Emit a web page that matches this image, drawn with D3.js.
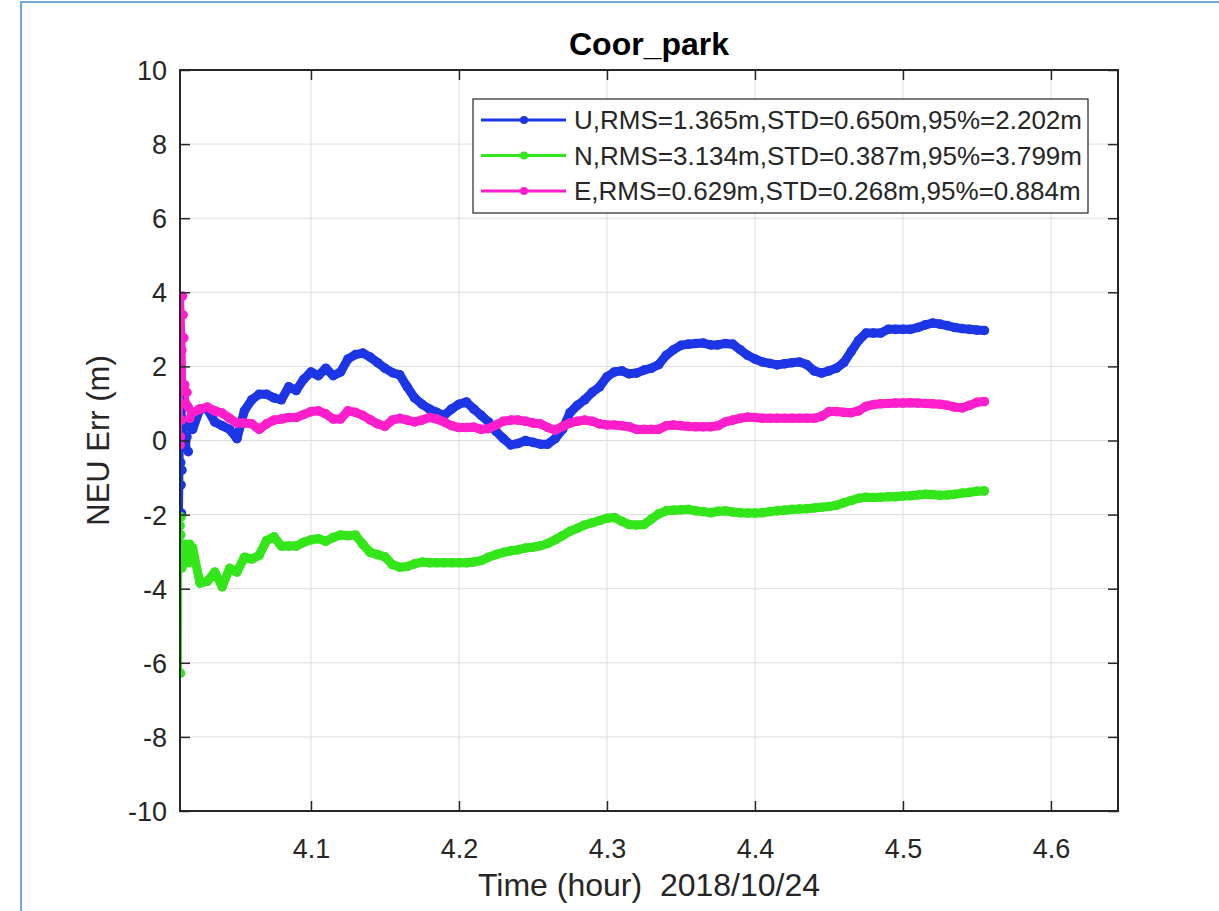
<!DOCTYPE html>
<html>
<head>
<meta charset="utf-8">
<script src="https://cdn.jsdelivr.net/npm/d3@7/dist/d3.min.js"></script>
<style>
  body { margin: 0; background: #fff; }
  text { font-family: "Liberation Sans", Arial, sans-serif; fill: #262626; }
</style>
</head>
<body>
<div id="chart"></div>
<script>
// epochs (hour of day)
const hours = [
  4.0116, 4.0118, 4.0120, 4.0122, 4.0125, 4.0128, 4.0132, 4.0136, 4.0141, 4.0147, 4.0154, 4.0162, 4.0171, 4.0181, 4.0192,
  4.020, 4.025, 4.030, 4.035, 4.040, 4.045, 4.050, 4.055, 4.060, 4.065,
  4.070, 4.075, 4.080, 4.085, 4.090, 4.095, 4.100, 4.105, 4.110, 4.115,
  4.120, 4.125, 4.130, 4.135, 4.140, 4.145, 4.150, 4.155, 4.160, 4.165,
  4.170, 4.175, 4.180, 4.185, 4.190, 4.195, 4.200, 4.205, 4.210, 4.215,
  4.220, 4.225, 4.230, 4.235, 4.240, 4.245, 4.250, 4.255, 4.260, 4.265,
  4.270, 4.275, 4.280, 4.285, 4.290, 4.295, 4.300, 4.305, 4.310, 4.315,
  4.320, 4.325, 4.330, 4.335, 4.340, 4.345, 4.350, 4.355, 4.360, 4.365,
  4.370, 4.375, 4.380, 4.385, 4.390, 4.395, 4.400, 4.405, 4.410, 4.415,
  4.420, 4.425, 4.430, 4.435, 4.440, 4.445, 4.450, 4.455, 4.460, 4.465,
  4.470, 4.475, 4.480, 4.485, 4.490, 4.495, 4.500, 4.505, 4.510, 4.515,
  4.520, 4.525, 4.530, 4.535, 4.540, 4.545, 4.550, 4.555
];

const errU = [
  1.70, 0.45, -0.60, -1.20, -1.96, -0.80, 0.30, 1.35, 0.90, 0.40, -0.20, 0.10, -0.30, 0.35, 0.60,
  0.30, 0.85, 0.85, 0.50, 0.40, 0.30, 0.05, 0.80, 1.10, 1.25,
  1.25, 1.15, 1.10, 1.45, 1.35, 1.65, 1.85, 1.75, 1.95, 1.75,
  1.85, 2.20, 2.32, 2.36, 2.25, 2.10, 1.95, 1.83, 1.77, 1.45,
  1.15, 0.98, 0.85, 0.76, 0.68, 0.85, 0.98, 1.04, 0.85, 0.68,
  0.50, 0.25, 0.05, -0.12, -0.08, 0.00, -0.05, -0.10, -0.10, 0.05,
  0.30, 0.75, 0.95, 1.10, 1.30, 1.45, 1.72, 1.85, 1.88, 1.80,
  1.82, 1.90, 1.95, 2.05, 2.30, 2.45, 2.57, 2.60, 2.62, 2.63,
  2.58, 2.58, 2.62, 2.60, 2.45, 2.30, 2.20, 2.12, 2.08, 2.04,
  2.07, 2.10, 2.12, 2.05, 1.88, 1.82, 1.88, 1.95, 2.10, 2.40,
  2.70, 2.90, 2.90, 2.90, 3.00, 3.00, 3.00, 3.00, 3.05, 3.12,
  3.17, 3.14, 3.10, 3.05, 3.02, 3.00, 2.98, 2.97
];

const errN = [
  -2.30, -6.28, -2.55, -2.06, -2.87, -3.44, -2.80, -3.20, -2.90, -3.30, -2.80, -3.00, -3.30, -2.80, -3.10,
  -2.90, -3.85, -3.80, -3.55, -3.95, -3.45, -3.55, -3.15, -3.20, -3.10,
  -2.70, -2.60, -2.85, -2.85, -2.85, -2.75, -2.68, -2.65, -2.72, -2.62,
  -2.55, -2.57, -2.55, -2.80, -3.02, -3.08, -3.14, -3.35, -3.42, -3.40,
  -3.33, -3.28, -3.30, -3.30, -3.30, -3.30, -3.30, -3.30, -3.28, -3.24,
  -3.15, -3.08, -3.02, -2.98, -2.95, -2.90, -2.88, -2.84, -2.78, -2.68,
  -2.57, -2.45, -2.37, -2.28, -2.22, -2.16, -2.10, -2.08, -2.18, -2.27,
  -2.28, -2.27, -2.12, -1.98, -1.90, -1.88, -1.87, -1.86, -1.90, -1.92,
  -1.95, -1.91, -1.90, -1.93, -1.95, -1.96, -1.96, -1.95, -1.92, -1.90,
  -1.88, -1.86, -1.85, -1.84, -1.82, -1.80, -1.78, -1.75, -1.68, -1.62,
  -1.56, -1.53, -1.54, -1.53, -1.52, -1.52, -1.50, -1.49, -1.47, -1.45,
  -1.46, -1.48, -1.47, -1.45, -1.42, -1.40, -1.37, -1.36
];

const errE = [
  -0.12, 0.10, 1.45, 1.90, 0.55, 2.44, 3.90, 3.39, 2.77, 1.50, 1.00, 1.30, 0.90, 0.60, 0.75,
  0.75, 0.85, 0.90, 0.80, 0.74, 0.60, 0.47, 0.47, 0.45, 0.30,
  0.45, 0.55, 0.58, 0.62, 0.62, 0.70, 0.78, 0.80, 0.72, 0.58,
  0.58, 0.80, 0.76, 0.68, 0.56, 0.45, 0.38, 0.55, 0.60, 0.55,
  0.50, 0.55, 0.62, 0.58, 0.50, 0.40, 0.35, 0.35, 0.36, 0.30,
  0.32, 0.42, 0.52, 0.55, 0.55, 0.52, 0.47, 0.45, 0.35, 0.28,
  0.38, 0.47, 0.52, 0.55, 0.52, 0.45, 0.42, 0.42, 0.40, 0.37,
  0.30, 0.30, 0.30, 0.30, 0.40, 0.42, 0.40, 0.38, 0.37, 0.37,
  0.37, 0.40, 0.50, 0.55, 0.60, 0.63, 0.62, 0.60, 0.60, 0.60,
  0.60, 0.60, 0.60, 0.60, 0.60, 0.65, 0.78, 0.78, 0.76, 0.75,
  0.80, 0.92, 0.97, 0.99, 1.00, 1.01, 1.01, 1.02, 1.01, 1.00,
  0.99, 0.98, 0.95, 0.90, 0.88, 0.95, 1.03, 1.05
];

const legendLabels = [
  "U,RMS=1.365m,STD=0.650m,95%=2.202m",
  "N,RMS=3.134m,STD=0.387m,95%=3.799m",
  "E,RMS=0.629m,STD=0.268m,95%=0.884m"
];
const seriesColors = ["#1c36e6", "#33e61a", "#ff1ecb"];
const xTicks = [4.1, 4.2, 4.3, 4.4, 4.5, 4.6];
const yTicks = [-10, -8, -6, -4, -2, 0, 2, 4, 6, 8, 10];
const xDomain = [4.0115, 4.6453];
const yDomain = [-10, 10];

const W = 1219, H = 911;
const margin = { top: 70, right: 101, bottom: 100, left: 180 };
const width = W - margin.left - margin.right,
      height = H - margin.top - margin.bottom;
const axisColor = "#262626";
// after the first few seconds the epochs are so dense that the dots merge into a thick trail
const denseFrom = 15;

const svg = d3.select("#chart").append("svg")
  .attr("width", W)
  .attr("height", H);

// light blue frame of the figure window
svg.append("path")
  .attr("d", `M21,${H} V2 H${W}`)
  .attr("fill", "none")
  .attr("stroke", "#6fa8dc")
  .attr("stroke-width", 2);

const g = svg.append("g")
  .attr("transform", `translate(${margin.left},${margin.top})`);

const x = d3.scaleLinear().domain(xDomain).range([0, width]);
const y = d3.scaleLinear().domain(yDomain).range([height, 0]);

// grid
g.append("g").selectAll("line")
  .data(xTicks).enter().append("line")
  .attr("x1", d => x(d)).attr("x2", d => x(d))
  .attr("y1", 0).attr("y2", height)
  .attr("stroke", "#dedede").attr("stroke-width", 1);
g.append("g").selectAll("line")
  .data(yTicks).enter().append("line")
  .attr("x1", 0).attr("x2", width)
  .attr("y1", d => y(d)).attr("y2", d => y(d))
  .attr("stroke", "#dedede").attr("stroke-width", 1);

// data
svg.append("defs").append("clipPath").attr("id", "plot-clip")
  .append("rect").attr("width", width).attr("height", height);

const series = [errU, errN, errE].map((vals, i) => ({
  color: seriesColors[i],
  points: vals.map((v, j) => ({ t: hours[j], v }))
}));

const line = d3.line().x(d => x(d.t)).y(d => y(d.v));

const plot = g.append("g").attr("clip-path", "url(#plot-clip)");
series.forEach(s => {
  const sg = plot.append("g");
  sg.append("path")
    .attr("d", line(s.points.slice(0, denseFrom + 1)))
    .attr("fill", "none")
    .attr("stroke", s.color)
    .attr("stroke-width", 3)
    .attr("stroke-linejoin", "round");
  sg.append("path")
    .attr("d", line(s.points.slice(denseFrom)))
    .attr("fill", "none")
    .attr("stroke", s.color)
    .attr("stroke-width", 9)
    .attr("stroke-linejoin", "round")
    .attr("stroke-linecap", "round");
  sg.selectAll("circle")
    .data(s.points).enter().append("circle")
    .attr("cx", d => x(d.t))
    .attr("cy", d => y(d.v))
    .attr("r", 4.8)
    .attr("fill", s.color);
});

// axes (inward ticks on all four sides, MATLAB style)
const tickLen = 10;
const xAxisB = g.append("g").attr("transform", `translate(0,${height})`)
  .call(d3.axisBottom(x).tickValues(xTicks).tickSize(-tickLen).tickPadding(28).tickFormat(d3.format(".1f")));
const xAxisT = g.append("g")
  .call(d3.axisTop(x).tickValues(xTicks).tickSize(-tickLen).tickFormat(""));
const yAxisL = g.append("g")
  .call(d3.axisLeft(y).tickValues(yTicks).tickSize(-tickLen).tickPadding(13).tickFormat(d => String(d)));
const yAxisR = g.append("g").attr("transform", `translate(${width},0)`)
  .call(d3.axisRight(y).tickValues(yTicks).tickSize(-tickLen).tickFormat(""));

[xAxisB, xAxisT, yAxisL, yAxisR].forEach(a => {
  a.select(".domain").remove();
  a.selectAll(".tick line").attr("stroke", axisColor).attr("stroke-width", 1.5);
  a.selectAll(".tick text")
    .attr("fill", axisColor)
    .style("font-family", "'Liberation Sans', Arial, sans-serif")
    .style("font-size", "27px");
});
yAxisL.selectAll(".tick text").attr("dy", "0.35em");

g.append("rect")
  .attr("width", width).attr("height", height)
  .attr("fill", "none")
  .attr("stroke", axisColor)
  .attr("stroke-width", 2);

// title and labels
svg.append("text")
  .attr("x", margin.left + width / 2)
  .attr("y", 55)
  .attr("text-anchor", "middle")
  .style("font-size", "32px")
  .style("font-weight", "bold")
  .style("fill", "#000")
  .text("Coor_park");

svg.append("text")
  .attr("x", margin.left + width / 2)
  .attr("y", 896)
  .attr("text-anchor", "middle")
  .style("font-size", "32px")
  .style("white-space", "pre")
  .attr("xml:space", "preserve")
  .text("Time (hour)  2018/10/24");

svg.append("text")
  .attr("transform", `translate(109,${margin.top + height / 2}) rotate(-90)`)
  .attr("text-anchor", "middle")
  .style("font-size", "31px")
  .text("NEU Err (m)");

// legend
const lg = svg.append("g").attr("transform", "translate(473,99)");
lg.append("rect")
  .attr("width", 615).attr("height", 114)
  .attr("fill", "#fff")
  .attr("stroke", axisColor)
  .attr("stroke-width", 1.2);
legendLabels.forEach((lab, i) => {
  const row = lg.append("g").attr("transform", `translate(0,${21 + i * 35.5})`);
  row.append("line")
    .attr("x1", 8).attr("x2", 93)
    .attr("stroke", seriesColors[i]).attr("stroke-width", 3);
  row.append("circle")
    .attr("cx", 51).attr("r", 4)
    .attr("fill", seriesColors[i]);
  row.append("text")
    .attr("x", 101)
    .attr("dy", "0.36em")
    .style("font-size", "26px")
    .text(lab);
});
</script>
</body>
</html>
